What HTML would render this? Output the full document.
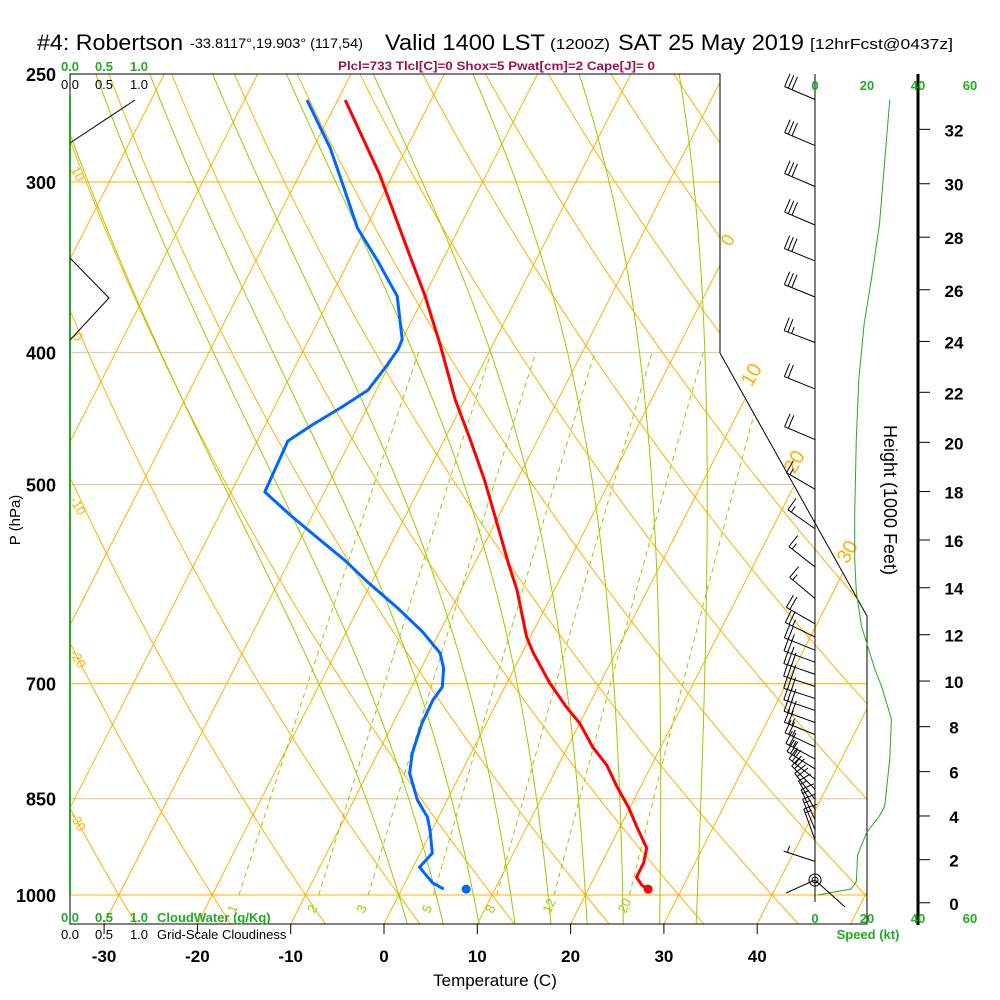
<!DOCTYPE html>
<html><head><meta charset="utf-8"><style>
html,body{margin:0;padding:0;background:#fff}
svg{display:block;font-family:"Liberation Sans",sans-serif}
</style></head><body>
<svg id="chart" width="1000" height="1000" viewBox="0 0 1000 1000" xmlns="http://www.w3.org/2000/svg">
<rect width="1000" height="1000" fill="#fff"/>
<defs><clipPath id="plotclip"><polygon points="70,74 720,74 720,353 867,616 867,924 70,924"/></clipPath></defs>
<g fill="#000">
<text x="37" y="50" font-size="22" textLength="146" lengthAdjust="spacingAndGlyphs">#4: Robertson</text>
<text x="190" y="48" font-size="14" textLength="173" lengthAdjust="spacingAndGlyphs">-33.8117°,19.903° (117,54)</text>
<text x="385" y="50" font-size="22" textLength="160" lengthAdjust="spacingAndGlyphs">Valid 1400 LST</text>
<text x="550" y="49" font-size="15" textLength="60" lengthAdjust="spacingAndGlyphs">(1200Z)</text>
<text x="618" y="50" font-size="22" textLength="186" lengthAdjust="spacingAndGlyphs">SAT 25 May 2019</text>
<text x="810" y="49" font-size="15" textLength="143" lengthAdjust="spacingAndGlyphs">[12hrFcst@0437z]</text>
</g>
<text x="338" y="70" font-size="12" font-weight="bold" fill="#a0104a" textLength="317" lengthAdjust="spacingAndGlyphs">Plcl=733 Tlcl[C]=0 Shox=5 Pwat[cm]=2 Cape[J]= 0</text>
<g id="bg" clip-path="url(#plotclip)"></g>
<g id="frame" fill="none" stroke="#000" stroke-width="1">
<polyline points="70,74 720,74 720,353 867,616 867,924 70,924 70,74"/>
</g>
<g id="labels"></g>
<g id="profiles"></g>
<g id="wind"></g>
</svg>
<script>
// ---- data ----
const tempP = [261.2,296.4,336.5,363.2,395.2,433.5,463.8,496.2,533.8,571.0,597.6,646.9,664.7,699.2,728.2,748.2,779.1,803.2,833.4,862.0,891.6,923.8,947.6,970.3,983.5,990.2];
const tempT = [-49.2,-41.4,-34.3,-30.0,-25.6,-21.0,-17.2,-13.5,-9.8,-6.4,-4.0,-0.4,1.2,4.6,7.7,10.0,12.7,15.2,17.5,19.8,21.8,24.0,24.5,24.5,25.5,26.4];
const dewP = [261.2,283.2,301.5,324.2,343.4,363.8,391.4,398.0,410.7,426.3,439.5,452.3,464.6,506.3,526.5,547.3,568.2,589.8,616.1,641.5,664.7,681.7,703.9,719.6,748.2,787.1,814.1,851.8,876.6,896.3,931.7,954.2,980.1,990.2];
const dewT = [-53.3,-48.2,-44.8,-40.9,-36.8,-32.9,-30.0,-29.9,-30.3,-30.9,-32.9,-35.0,-36.7,-36.4,-32.4,-28.2,-24.1,-20.4,-15.8,-11.8,-8.8,-7.6,-6.7,-7.0,-6.9,-6.3,-5.5,-3.2,-1.2,-0.2,1.3,0.7,3.0,4.5];
const sfcP = 990.2, sfcT = 26.4, sfcTd = 6.9;
const barbP = [261,282.1,302.3,322.6,342.8,364.3,393.4,425.5,463.5,504,538.8,574.7,606.2,632.6,646.9,661.4,675,688.9,703.1,717.6,732.3,747.4,762.8,778.6,794.7,808.3,822.3,836.5,850.9,865.6,880.6,895.8,911.3,944.8];
const barbSpd = [30,30,30,30,30,30,25,20,20,15,15,15,15,20,25,25,25,30,30,30,30,30,25,25,25,25,25,20,20,15,15,15,15,5];
const barbDir = [293,293,293,293,292,292,291,292,293,300,305,308,310,300,296,292,290,289,288,288,289,290,292,295,298,302,308,315,322,330,335,338,340,288];
const speedP = [261,322,352,382,418,463,526,567,599,635,681,705,743,794,861,875,900,935,978,990,1000];
const speedKt = [29,25,22,19,17,16,15.4,15.4,16,18,23,26,29.6,29,27,25,20,16.5,16,14,1];
const heightTicks = [0,2,4,6,8,10,12,14,16,18,20,22,24,26,28,30,32];
const tempTicks = [-30,-20,-10,0,10,20,30,40];
const presTicks = [250,300,400,500,700,850,1000];
const mixRatios = [1,2,3,5,8,12,20];
const moistStarts = [0,4,8,12,16,20,24,28,32];
const dryThetas = [-60,-50,-40,-30,-20,-10,0,10,20,30,40,50,60,70,80,90,100,110,120,130,140,150,160];
const isotherms = [-150,-140,-130,-120,-110,-100,-90,-80,-70,-60,-50,-40,-30,-20,-10,0,10,20,30,40,50];

// ---- axes ----
const Y = p => 74 + Math.log(p/250)/0.0016886;
const X = (T,p) => 384 + 9.33*T + 0.51*(924 - Y(p));
const SX = kt => 815 + 2.58*kt;
const NS = 'http://www.w3.org/2000/svg';
function mk(tag, parent, attrs){const e=document.createElementNS(NS,tag);for(const k in attrs)e.setAttribute(k,attrs[k]);parent.appendChild(e);return e;}
const bg=document.getElementById('bg'), lab=document.getElementById('labels'), prof=document.getElementById('profiles'), wind=document.getElementById('wind');
function pathFrom(pts){return 'M'+pts.map(q=>q[0].toFixed(1)+','+q[1].toFixed(1)).join('L');}

presTicks.forEach(p=>{
  const l=mk('line',bg,{x1:70,x2:870,y1:Y(p),y2:Y(p),stroke:(p==400||p==500||p==850)?'#e0c490':'#ffb000','stroke-width':1});
  
  
});
isotherms.forEach(T=>{
  const l=mk('line',bg,{x1:X(T,1050),y1:Y(1050),x2:X(T,240),y2:Y(240),stroke:'#ffb000','stroke-width':1});
  
  
});
dryThetas.forEach(th=>{
  const pts=[];for(let p=1050;p>=240;p-=10){const T=(th+273.15)*Math.pow(p/1000,0.286)-273.15;pts.push([X(T,p),Y(p)]);}
  const l=mk('path',bg,{d:pathFrom(pts),fill:'none',stroke:'#ffb000','stroke-width':1});
  
  
});
function es(Tc){return 6.112*Math.exp(17.67*Tc/(Tc+243.5));}
function dTdp(TK,p){const e=es(TK-273.15);const rs=0.622*e/(p-e);return (287*TK+2.5e6*rs)/(p*(1004+2.5e6*2.5e6*rs*0.622/(287*TK*TK)));}
moistStarts.forEach(t0=>{
  const pts=[];let T=t0+273.15;
  let Tb=T;for(let p=1000;p<1050;p+=2){Tb+=dTdp(Tb,p)*2;}
  pts.push([X(Tb-273.15,1050),Y(1050)]);
  for(let p=1000;p>=240;p-=2){if(p%10==0)pts.push([X(T-273.15,p),Y(p)]);T-=dTdp(T,p)*2;}
  const l=mk('path',bg,{d:pathFrom(pts),fill:'none',stroke:'#99cc00','stroke-width':1});
  
  
});
mixRatios.forEach(w=>{
  const pts=[];for(let p=1000;p>=400;p-=10){const e=w*p/(622+w);const a=Math.log(e/6.112);const Td=243.5*a/(17.67-a);pts.push([X(Td,p),Y(p)]);}
  const l=mk('path',bg,{d:pathFrom(pts),fill:'none',stroke:'#99cc00','stroke-width':1,'stroke-dasharray':'5,4'});
  
  
  const x0=pts[0][0];
  const t=mk('text',lab,{x:x0-4,y:914,'font-size':13,fill:'#99cc00',transform:`rotate(-65 ${x0-4} 914)`});
  t.textContent=String(w);
  
  
});
[['0',733,243,-60,18],['10',757,378,-60,20],['20',800,465,-60,20],['30',853,555,-60,20],
 ['10',74,176,60,13],['0',74,339,60,13],['-10',74,508,60,13],['-20',74,661,60,13],['-30',74,824,60,13]].forEach(a=>{
  const t=mk('text',lab,{x:a[1],y:a[2],'font-size':a[4],fill:'#ffb000','text-anchor':'middle',transform:`rotate(${a[3]} ${a[1]} ${a[2]})`});
  t.textContent=a[0];
  
  
});
presTicks.forEach(p=>{
  const t=mk('text',lab,{x:56,y:Y(p)+7,'font-size':18,'font-weight':'bold','text-anchor':'end',fill:'#000'});
  t.textContent=String(p);
  
  
});
tempTicks.forEach(T=>{
  const x=384+9.33*T;
  const l=mk('line',lab,{x1:x,x2:x,y1:924,y2:934,stroke:'#000'});
  
  
  const t=mk('text',lab,{x:x,y:962,'font-size':17,'font-weight':'bold','text-anchor':'middle',fill:'#000'});
  t.textContent=String(T);
  
  
});
function hY(kft){const m=kft*1000*0.3048;const p=1013.25*Math.pow(1-2.25577e-5*m,5.25588);return Y(p);}
heightTicks.forEach(h=>{
  const y=hY(h);
  const l=mk('line',lab,{x1:918,x2:930,y1:y,y2:y,stroke:'#000'});
  
  
  const t=mk('text',lab,{x:954,y:y+7,'font-size':17,'font-weight':'bold','text-anchor':'middle',fill:'#000'});
  t.textContent=String(h);
  
  
});
const tp=tempP.map((p,i)=>[X(tempT[i],p),Y(p)]);
const tl=mk('path',prof,{d:pathFrom(tp),fill:'none',stroke:'#ff0000','stroke-width':3,'stroke-linejoin':'round'});


const dp=dewP.map((p,i)=>[X(dewT[i],p),Y(p)]);
const dl=mk('path',prof,{d:pathFrom(dp),fill:'none',stroke:'#0066ff','stroke-width':3,'stroke-linejoin':'round'});


const c1=mk('circle',prof,{cx:X(sfcT,sfcP),cy:Y(sfcP),r:4.5,fill:'#ff0000'});


const c2=mk('circle',prof,{cx:X(sfcTd,sfcP),cy:Y(sfcP),r:4.5,fill:'#0066ff'});


const sp=speedP.map((p,i)=>[SX(speedKt[i]),Y(p)]);
const sl=mk('path',wind,{d:pathFrom(sp),fill:'none',stroke:'#22aa22','stroke-width':1});


barbP.forEach((p,i)=>{
  const g=mk('g',wind,{stroke:'#000','stroke-width':1,fill:'none'});
  
  
  const d=barbDir[i]*Math.PI/180, ux=Math.sin(d), uy=-Math.cos(d), L=33;
  const bx=815, by=Y(p), ex=bx+L*ux, ey=by+L*uy;
  mk('line',g,{x1:bx,y1:by,x2:ex,y2:ey});
  const fx=-uy, fy=ux;
  let s=barbSpd[i], k=0;
  while(s>=10){const px=ex-ux*k*4, py=ey-uy*k*4;mk('line',g,{x1:px,y1:py,x2:px+fx*14,y2:py+fy*14});s-=10;k++;}
  if(s>=5){if(k==0)k=1;const px=ex-ux*k*4, py=ey-uy*k*4;mk('line',g,{x1:px,y1:py,x2:px+fx*7,y2:py+fy*7});}
});
const calm=mk('g',wind,{stroke:'#000',fill:'none'});


mk('circle',calm,{cx:815,cy:880,r:6});mk('circle',calm,{cx:815,cy:880,r:3});
mk('line',calm,{x1:815,y1:880,x2:786,y2:893});
mk('line',calm,{x1:815,y1:880,x2:845,y2:907});
</script>
<script>
const s=document.getElementById('chart');
const NS2='http://www.w3.org/2000/svg';
function add(tag,attrs,txt,name){const e=document.createElementNS(NS2,tag);for(const k in attrs)e.setAttribute(k,attrs[k]);if(txt!=null)e.textContent=txt;


s.appendChild(e);return e;}
add('line',{x1:815,x2:815,y1:74,y2:902,stroke:'#000'},null,'wind-axis');
add('line',{x1:918,x2:918,y1:74,y2:925,stroke:'#000','stroke-width':3},null,'height-axis');
add('line',{x1:70,x2:70,y1:97,y2:895,stroke:'#22aa22','stroke-width':2},null,'cloud-water-line');
add('polyline',{points:'70,143 135,100',fill:'none',stroke:'#000'},null,'cloudiness-line-upper');
add('polyline',{points:'70,258 109,298 70,340',fill:'none',stroke:'#000'},null,'cloudiness-line-lower');
[['0.0',70],['0.5',104],['1.0',139]].forEach(a=>{
 add('text',{x:a[1],y:71,'font-size':13,'font-weight':'bold',fill:'#22aa22','text-anchor':'middle'},a[0],'cloud-water-scale-top');
 add('text',{x:a[1],y:89,'font-size':13,fill:'#000','text-anchor':'middle'},a[0],'cloudiness-scale-top');
 add('text',{x:a[1],y:922,'font-size':13,'font-weight':'bold',fill:'#22aa22','text-anchor':'middle'},a[0],'cloud-water-scale-bottom');
 add('text',{x:a[1],y:939,'font-size':13,fill:'#000','text-anchor':'middle'},a[0],'cloudiness-scale-bottom');
});
add('text',{x:157,y:922,'font-size':13,'font-weight':'bold',fill:'#22aa22'},'CloudWater (g/Kg)','cloud-water-title');
add('text',{x:157,y:939,'font-size':13,fill:'#000'},'Grid-Scale Cloudiness','cloudiness-title');
[['0',815],['20',867],['40',918],['60',970]].forEach(a=>{
 add('text',{x:a[1],y:90,'font-size':13,'font-weight':'bold',fill:'#22aa22','text-anchor':'middle'},a[0],'speed-scale-top');
 add('text',{x:a[1],y:923,'font-size':13,'font-weight':'bold',fill:'#22aa22','text-anchor':'middle'},a[0],'speed-scale-bottom');
});
add('text',{x:868,y:939,'font-size':13,'font-weight':'bold',fill:'#22aa22','text-anchor':'middle'},'Speed (kt)','speed-axis-title');
add('text',{x:495,y:986,'font-size':17,fill:'#000','text-anchor':'middle'},'Temperature (C)','x-axis-title');
add('text',{x:20,y:520,'font-size':15,fill:'#000','text-anchor':'middle',transform:'rotate(-90 20 520)'},'P (hPa)','y-axis-title');
add('text',{x:884,y:500,'font-size':18,fill:'#000','text-anchor':'middle',transform:'rotate(90 884 500)'},'Height (1000 Feet)','height-axis-title');
</script>
</body></html>
